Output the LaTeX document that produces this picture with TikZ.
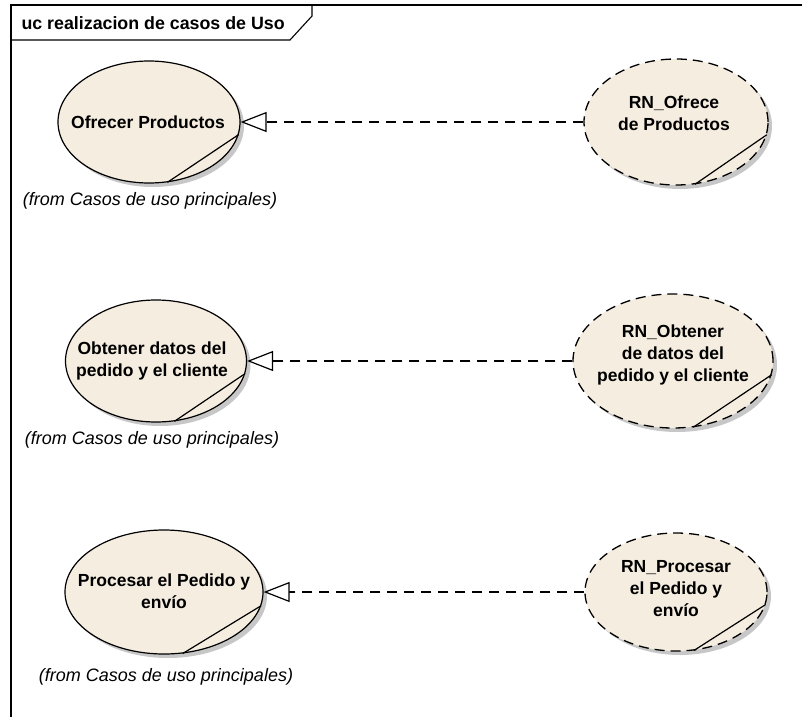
\documentclass[tikz,border=0pt]{standalone}
\usepackage{fontspec}
\setmainfont{Liberation Sans}
\usetikzlibrary{shapes.geometric, arrows.meta, shadows}
\definecolor{ucfill}{RGB}{245, 237, 224}

\begin{document}
\begin{tikzpicture}[x=1pt, y=-1pt,
	uc/.style={ellipse, draw, line width=1.2pt, fill=ucfill, inner sep=0pt,
		drop shadow={shadow xshift=4pt, shadow yshift=-4pt, fill=black!22, opacity=1}},
	rn/.style={uc, line width=1.3pt, dash pattern=on 10pt off 6pt},
	uctext/.style={align=center, font=\fontsize{17.5}{22}\selectfont\bfseries},
	fromtext/.style={font=\fontsize{18}{20}\selectfont\itshape},
	realiza/.style={dash pattern=on 10pt off 7pt, line width=1.2pt,
		-{Triangle[length=26pt, width=20pt, fill=white, line width=1.2pt]}}]
	\useasboundingbox (0,0) rectangle (802,717);
	% frame and title tab
	\draw[line width=1.4pt] (11,717) -- (11,5) -- (802,5);
	\draw[line width=1.1pt] (11,40) -- (290,40) -- (312,16) -- (312,5);
	\node[anchor=west, font=\fontsize{17.8}{20}\selectfont\bfseries] (titulo) at (18,23) {uc realizacion de casos de Uso};
	% use cases
	\node[uc, minimum width=182, minimum height=122] (uc1) at (149,122) {};
	\node[uc, minimum width=181, minimum height=122] (uc2) at (156,361) {};
	\node[uc, minimum width=198, minimum height=124] (uc3) at (164,592) {};
	\node[rn, minimum width=184, minimum height=126] (rn1) at (676,122) {};
	\node[rn, minimum width=200, minimum height=134] (rn2) at (673,361) {};
	\node[rn, minimum width=182, minimum height=118] (rn3) at (676,592) {};
	% the little chord on each ellipse
	\foreach \n in {uc1,uc2,uc3,rn1,rn2,rn3}
		\draw[line width=1.2pt] (\n.-8) -- (\n.-73);
	\node[uctext] (uc1-t) at (148,122) {Ofrecer Productos};
	\node[uctext] (uc2-t) at (152,361) {Obtener datos del\\pedido y el cliente};
	\node[uctext] (uc3-t) at (164,591) {Procesar el Pedido y\\envío};
	\node[uctext] (rn1-t) at (674,113) {RN\_Ofrece\\de Productos};
	\node[uctext] (rn2-t) at (673,355) {RN\_Obtener\\de datos del\\pedido y el cliente};
	\node[uctext] (rn3-t) at (676,589) {RN\_Procesar\\el Pedido y\\envío};
	\node[fromtext] (uc1-f) at (150,201) {(from Casos de uso principales)};
	\node[fromtext] (uc2-f) at (152,440) {(from Casos de uso principales)};
	\node[fromtext] (uc3-f) at (166,677) {(from Casos de uso principales)};
	% realizations
	\draw[realiza] (rn1) -- (uc1);
	\draw[realiza] (rn2) -- (uc2);
	\draw[realiza] (rn3) -- (uc3);
\end{tikzpicture}
\end{document}
